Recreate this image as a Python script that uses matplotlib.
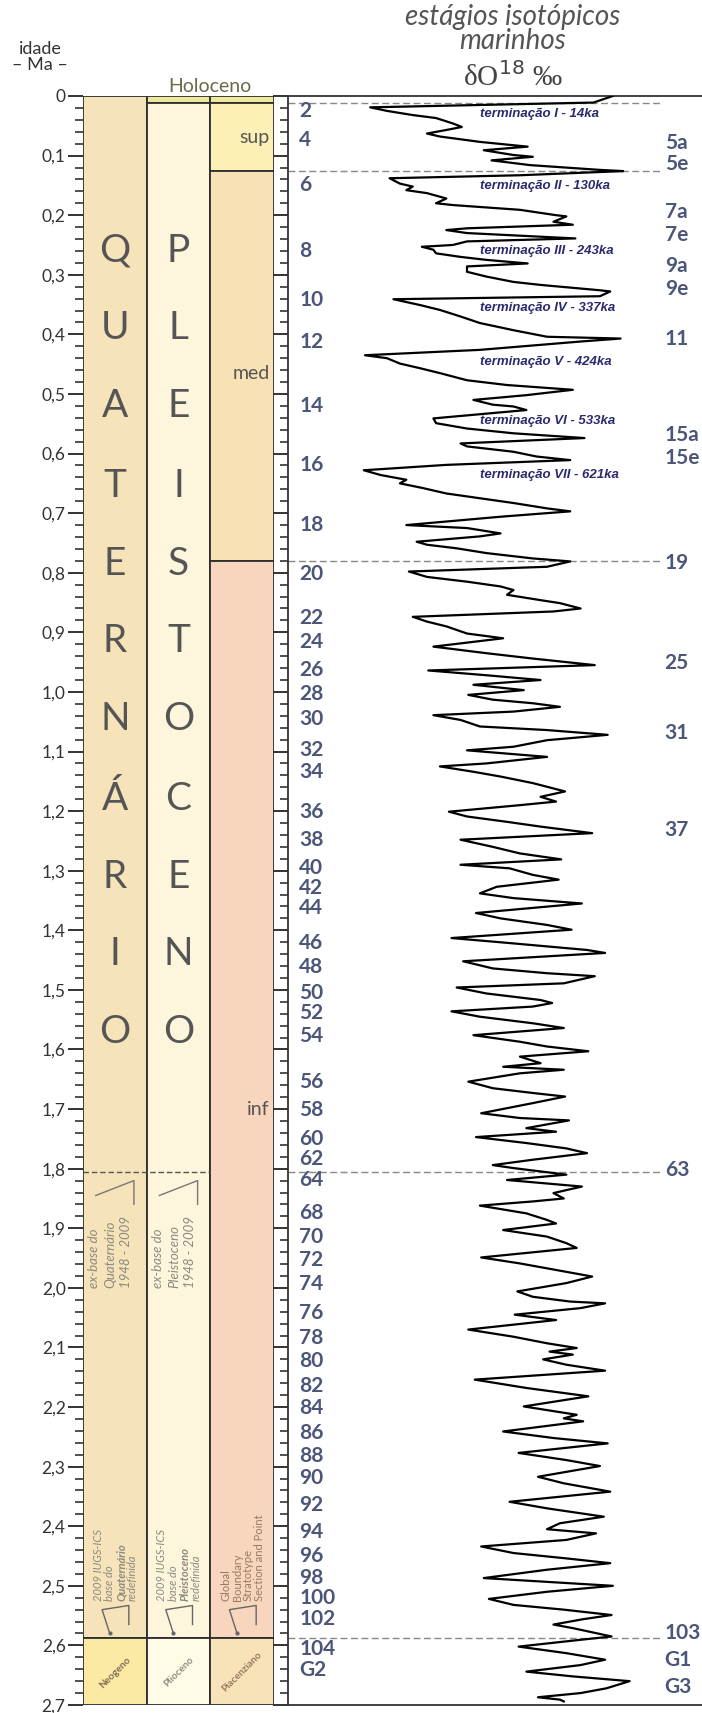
import numpy as np
import matplotlib.pyplot as plt
from matplotlib.ticker import MultipleLocator

plt.rcParams['font.family'] = ['Lato', 'DejaVu Sans']

# --- data -------------------------------------------------------------
tick_ages = [round(0.1 * i, 1) for i in range(28)]
tick_labels = ['0'] + [f'{t:.1f}'.replace('.', ',') for t in tick_ages[1:]]

# geological units: column, top (Ma), base (Ma), colour
unit_col = [0, 0, 1, 1, 1, 2, 2, 2, 2, 2]
unit_top = [0.0, 2.588, 0.0, 0.0117, 2.588, 0.0, 0.0117, 0.126, 0.781, 2.588]
unit_base = [2.588, 2.7, 0.0117, 2.588, 2.7, 0.0117, 0.126, 0.781, 2.588, 2.7]
unit_colour = ['#f7e3ba', '#fbeaa3', '#eee89a', '#fdf6dc', '#fefbe6',
               '#eee89a', '#fdf0b6', '#f8e1b5', '#f8d5bd', '#f8e2b8']

quat_letters = list('QUATERNÁRIO')
pleist_letters = list('PLEISTOCENO')
letter_ages = [0.26, 0.39, 0.52, 0.655, 0.785, 0.915, 1.045, 1.18, 1.31, 1.44, 1.57]

sub_labels = ['sup', 'med', 'inf']
sub_ages = [0.07, 0.465, 1.70]

base_labels = ['Neogeno', 'Plioceno', 'Piacenziano']
base_colours = ['#7c6c55', '#8c8c80', '#9a7460']

# marine isotope stages
even_labels = ['2', '4', '6', '8', '10', '12', '14', '16', '18', '20', '22', '24', '26',
               '28', '30', '32', '34', '36', '38', '40', '42', '44', '46', '48', '50',
               '52', '54', '56', '58', '60', '62', '64', '68', '70', '72', '74', '76',
               '78', '80', '82', '84', '86', '88', '90', '92', '94', '96', '98', '100',
               '102', '104', 'G2']
even_ages = [0.026, 0.073, 0.149, 0.260, 0.342, 0.412, 0.521, 0.619, 0.720, 0.802,
             0.876, 0.917, 0.963, 1.004, 1.045, 1.098, 1.134, 1.202, 1.248, 1.296,
             1.329, 1.363, 1.422, 1.461, 1.506, 1.538, 1.577, 1.655, 1.702, 1.750,
             1.784, 1.819, 1.874, 1.915, 1.953, 1.993, 2.042, 2.084, 2.123, 2.164,
             2.202, 2.244, 2.283, 2.319, 2.365, 2.410, 2.450, 2.487, 2.521, 2.556,
             2.606, 2.641]
odd_labels = ['5a', '5e', '7a', '7e', '9a', '9e', '11', '15a', '15e', '19', '25', '31',
              '37', '63', '103', 'G1', 'G3']
odd_ages = [0.079, 0.114, 0.194, 0.234, 0.285, 0.324, 0.407, 0.569, 0.608, 0.784,
            0.952, 1.069, 1.232, 1.803, 2.579, 2.625, 2.669]

term_labels = ['terminação I - 14ka', 'terminação II - 130ka', 'terminação III - 243ka',
               'terminação IV - 337ka', 'terminação V - 424ka', 'terminação VI - 533ka',
               'terminação VII - 621ka']
term_ages = [0.030, 0.151, 0.260, 0.356, 0.447, 0.546, 0.636]

boundary_ages = [0.0117, 0.126, 0.781, 1.806, 2.588]

# d18O curve (age Ma, per mil)
curve_a = [(0.000, 3.16), (0.011, 3.31), (0.019, 5.04), (0.025, 4.91), (0.032, 4.71),
           (0.037, 4.53), (0.046, 4.40), (0.052, 4.33), (0.057, 4.45), (0.063, 4.60),
           (0.068, 4.50), (0.077, 4.19), (0.085, 3.82), (0.091, 4.16), (0.099, 3.93),
           (0.102, 3.78), (0.108, 4.10), (0.116, 3.80), (0.124, 3.26), (0.126, 3.08),
           (0.133, 3.88), (0.138, 4.89), (0.147, 4.81), (0.152, 4.71), (0.158, 4.76),
           (0.163, 4.60), (0.172, 4.45), (0.180, 4.53), (0.183, 4.40), (0.191, 3.88),
           (0.200, 3.60), (0.202, 3.52), (0.211, 3.62), (0.216, 3.47), (0.222, 4.29),
           (0.225, 4.45), (0.230, 4.29), (0.239, 3.45), (0.244, 4.29), (0.250, 4.40),
           (0.253, 4.64), (0.258, 4.55), (0.264, 4.53), (0.270, 4.34), (0.275, 4.14),
           (0.281, 3.82), (0.286, 4.29), (0.295, 4.29), (0.303, 4.14), (0.312, 3.93),
           (0.317, 3.72), (0.326, 3.26), (0.328, 3.18), (0.336, 3.26), (0.341, 4.86),
           (0.351, 4.65), (0.359, 4.50), (0.370, 4.34), (0.381, 4.19), (0.393, 3.93),
           (0.404, 3.67), (0.407, 3.10), (0.412, 3.41), (0.426, 4.19), (0.435, 5.08),
           (0.440, 4.91), (0.449, 4.81), (0.457, 4.65), (0.465, 4.50), (0.477, 4.29),
           (0.485, 3.98), (0.493, 3.47), (0.502, 3.83), (0.510, 4.24), (0.518, 4.09),
           (0.521, 3.93), (0.527, 3.83), (0.535, 4.24), (0.541, 4.55), (0.549, 4.53),
           (0.558, 4.29), (0.566, 3.93), (0.574, 3.38), (0.583, 4.34), (0.588, 4.29),
           (0.597, 3.93), (0.605, 3.75), (0.611, 3.49), (0.619, 4.45), (0.628, 5.09),
           (0.636, 4.96), (0.644, 4.76), (0.650, 4.81), (0.658, 4.63), (0.667, 4.45),
           (0.683, 3.93), (0.692, 3.67)]
curve_b = [(0.697, 3.49), (0.706, 4.03), (0.720, 4.76), (0.725, 4.29), (0.734, 4.03),
           (0.739, 4.19), (0.748, 4.68), (0.753, 4.60), (0.759, 4.37), (0.767, 4.14),
           (0.776, 3.78), (0.781, 3.49), (0.790, 3.67), (0.798, 4.74), (0.807, 4.60),
           (0.815, 4.29), (0.823, 4.03), (0.829, 3.93), (0.837, 3.98), (0.846, 3.72),
           (0.851, 3.57), (0.860, 3.41), (0.865, 3.62), (0.874, 4.71), (0.882, 4.60),
           (0.890, 4.45), (0.902, 4.29), (0.910, 4.01), (0.924, 4.55), (0.935, 4.14),
           (0.944, 3.78), (0.955, 3.30), (0.964, 4.59), (0.972, 4.14), (0.980, 3.72),
           (0.988, 4.24), (0.997, 3.85), (1.005, 4.28), (1.013, 4.09), (1.019, 3.78),
           (1.025, 3.57), (1.033, 3.93), (1.039, 4.55), (1.047, 4.34), (1.058, 4.19),
           (1.064, 3.67), (1.072, 3.20), (1.081, 3.67), (1.092, 3.93), (1.098, 4.29),
           (1.109, 3.67), (1.120, 4.14), (1.125, 4.50), (1.134, 4.24), (1.142, 4.03),
           (1.153, 3.78), (1.167, 3.53), (1.176, 3.72), (1.184, 3.60), (1.190, 3.88),
           (1.201, 4.43), (1.209, 4.29), (1.218, 3.98), (1.226, 3.72), (1.237, 3.32),
           (1.248, 4.34), (1.260, 4.09), (1.271, 3.88), (1.281, 3.56), (1.290, 4.34),
           (1.296, 3.96), (1.307, 3.78), (1.315, 3.58), (1.327, 4.06), (1.338, 4.19),
           (1.346, 3.93), (1.355, 3.40), (1.371, 4.22)]
curve_c = [(1.380, 4.03), (1.391, 3.67), (1.399, 3.48), (1.413, 4.41), (1.422, 3.93),
           (1.433, 3.36), (1.438, 3.22), (1.452, 4.32), (1.464, 4.09), (1.472, 3.67),
           (1.477, 3.30), (1.489, 3.54), (1.496, 4.37), (1.506, 4.14), (1.517, 3.72),
           (1.522, 3.63), (1.528, 3.78), (1.536, 4.41), (1.545, 4.19), (1.556, 3.78),
           (1.564, 3.54), (1.576, 4.24), (1.587, 3.88), (1.595, 3.67), (1.603, 3.35),
           (1.612, 3.88), (1.623, 3.72), (1.629, 4.01), (1.634, 3.54), (1.640, 3.88),
           (1.654, 4.28), (1.665, 4.09), (1.673, 3.78), (1.679, 3.53), (1.690, 3.78),
           (1.707, 4.18), (1.715, 3.88), (1.719, 3.50), (1.732, 3.83), (1.738, 3.60),
           (1.747, 4.22), (1.757, 3.83), (1.766, 3.52), (1.774, 3.36), (1.785, 3.78),
           (1.794, 4.09), (1.799, 3.93), (1.810, 3.52), (1.819, 3.98), (1.830, 3.40),
           (1.841, 3.62), (1.850, 3.54), (1.855, 3.78), (1.862, 4.19), (1.875, 3.83),
           (1.886, 3.67), (1.892, 3.60), (1.903, 4.01), (1.914, 3.67), (1.925, 3.52),
           (1.933, 3.44), (1.949, 4.18), (1.959, 3.88), (1.970, 3.60), (1.981, 3.32),
           (1.992, 3.52), (2.006, 3.90), (2.015, 3.78), (2.023, 3.49), (2.026, 3.22),
           (2.034, 3.41), (2.045, 3.92)]
curve_d = [(2.054, 3.60), (2.070, 4.28), (2.082, 3.93), (2.093, 3.67), (2.101, 3.44),
           (2.107, 3.65), (2.112, 3.47), (2.120, 3.70), (2.129, 3.52), (2.139, 3.22),
           (2.154, 4.23), (2.168, 3.83), (2.182, 3.35), (2.199, 3.85), (2.213, 3.44),
           (2.219, 3.54), (2.224, 3.39), (2.241, 4.01), (2.252, 3.62), (2.261, 3.20),
           (2.277, 3.89), (2.289, 3.52), (2.299, 3.26), (2.317, 3.74), (2.328, 3.54),
           (2.342, 3.18), (2.359, 3.96), (2.370, 3.67), (2.384, 3.23), (2.395, 3.57),
           (2.405, 3.67), (2.412, 3.29), (2.423, 3.52), (2.434, 4.18), (2.445, 3.93),
           (2.454, 3.52), (2.462, 3.18), (2.473, 3.67), (2.487, 4.16), (2.500, 3.16),
           (2.510, 3.67), (2.522, 4.12), (2.532, 3.93), (2.540, 3.54), (2.549, 3.17),
           (2.556, 3.39), (2.565, 3.62), (2.571, 3.47), (2.585, 3.17), (2.592, 3.47),
           (2.602, 3.89), (2.613, 3.52), (2.624, 3.22), (2.633, 3.41), (2.644, 3.83),
           (2.652, 3.47), (2.660, 3.03), (2.672, 3.21), (2.680, 3.41), (2.687, 3.74),
           (2.691, 3.57), (2.694, 3.54)]

# --- figure -----------------------------------------------------------
W, H = 702, 1713
fig = plt.figure(figsize=(W / 100, H / 100), dpi=100)
bot = 8 / H
hgt = 1609 / H

ax = fig.add_axes([83 / W, bot, 191 / W, hgt])
ax.set_xlim(0, 3)
ax.set_ylim(2.7, 0)
for s in ax.spines.values():
    s.set_visible(False)
ax.set_xticks([])
ax.set_yticks(tick_ages)
ax.set_yticklabels(tick_labels)
ax.yaxis.set_minor_locator(MultipleLocator(0.02))
ax.tick_params(axis='y', which='major', length=10.5, width=1.4, pad=2,
               labelsize=12.5, labelcolor='#333333', color='#333333')
ax.tick_params(axis='y', which='minor', length=5.5, width=1.2, color='#333333')

tops = np.array(unit_top)
bases = np.array(unit_base)
ax.bar(np.array(unit_col) + 0.5, bases - tops, bottom=tops, width=1,
       color=unit_colour, edgecolor='#2e2e2e', linewidth=1.3, zorder=1)

for letter_q, letter_p, age in zip(quat_letters, pleist_letters, letter_ages):
    ax.text(0.5, age, letter_q, ha='center', va='center', fontsize=28, color='#555555')
    ax.text(1.5, age, letter_p, ha='center', va='center', fontsize=28, color='#555555')

for lab, age in zip(sub_labels, sub_ages):
    ax.text(2.93, age, lab, ha='right', va='center', fontsize=14, color='#555555')

ax.text(2.0, -0.001, 'Holoceno', ha='center', va='bottom', fontsize=14,
        color='#6b6a48', clip_on=False)

for i, (lab, col) in enumerate(zip(base_labels, base_colours)):
    ax.text(i + 0.5, 2.645, lab, ha='center', va='center', rotation=45,
            fontsize=7, fontweight='bold', color=col)

# old base of the Quaternary / Pleistocene
ax.hlines(1.806, 0, 2, colors='#555555', linestyles=(0, (4, 2)), linewidth=1, zorder=3)
old_lines = ['ex-base do', 'Quaternário', '1948 - 2009']
old_lines_p = ['ex-base do', 'Pleistoceno', '1948 - 2009']
for c, lines in enumerate([old_lines, old_lines_p]):
    for k, line in enumerate(lines):
        ax.text(c + 0.18 + 0.25 * k, 2.0, line, rotation=90, ha='center', va='bottom',
                fontsize=9.5, style='italic', color='#8a8a80')
    ax.plot([c + 0.2, c + 0.8, c + 0.8], [1.845, 1.82, 1.86],
            color='#777777', linewidth=1)

new_q = ['2009 IUGS-ICS', 'base do', 'Quaternário', 'redefinida']
new_p = ['2009 IUGS-ICS', 'base do', 'Pleistoceno', 'redefinida']
gssp = ['Global', 'Boundary', 'Stratotype', 'Section and Point']
for c, lines in enumerate([new_q, new_p, gssp]):
    for k, line in enumerate(lines):
        bold = (k == 2 and c < 2)
        ax.text(c + 0.24 + 0.18 * k, 2.525, line, rotation=90, ha='center', va='bottom',
                fontsize=8, style='normal' if c == 2 else 'italic',
                fontweight='bold' if bold else 'normal',
                color='#9a7a66' if c == 2 else '#8a8a80')
    ax.plot([c + 0.72, c + 0.72, c + 0.3, c + 0.42],
            [2.565, 2.533, 2.54, 2.58], color='#666666', linewidth=1)
    ax.plot([c + 0.42], [2.58], 'o', color='#666666', markersize=2)

fig.text(40 / W, 1 - 57 / H, 'idade\n– Ma –', ha='center', va='center', fontsize=13,
         color='#333333', linespacing=0.95)

# --- isotope curve panel ----------------------------------------------
ax2 = fig.add_axes([288 / W, bot, 414 / W, hgt])
ax2.set_ylim(2.7, 0)
ax2.set_xlim(5.677, 2.469)
ax2.spines['right'].set_visible(False)
for side in ['left', 'top', 'bottom']:
    ax2.spines[side].set_linewidth(1.3)
    ax2.spines[side].set_color('#333333')
ax2.set_xticks([])
ax2.yaxis.set_major_locator(MultipleLocator(0.1))
ax2.yaxis.set_minor_locator(MultipleLocator(0.02))
ax2.tick_params(axis='y', which='major', length=10.5, width=1.4, labelleft=False,
                color='#333333')
ax2.tick_params(axis='y', which='minor', length=5.5, width=1.2, color='#333333')

curve = curve_a + curve_b + curve_c + curve_d
ages = [p[0] for p in curve]
d18o = [p[1] for p in curve]
ax2.plot(d18o, ages, color='black', linewidth=1.6, zorder=4)

for b in boundary_ages:
    ax2.axhline(b, xmin=0, xmax=0.9, color='#888888', linewidth=1,
                linestyle=(0, (5, 2.5)), zorder=2)

ytr = ax2.get_yaxis_transform()
stage_col = '#4b5678'
for lab, age in zip(even_labels, even_ages):
    ax2.text(0.027, age, lab, transform=ytr, ha='left', va='center', fontsize=15,
             fontweight='bold', color=stage_col)
for lab, age in zip(odd_labels, odd_ages):
    ax2.text(0.91, age, lab, transform=ytr, ha='left', va='center', fontsize=15,
             fontweight='bold', color=stage_col)
for lab, age in zip(term_labels, term_ages):
    ax2.text(0.464, age, lab, transform=ytr, ha='left', va='center', fontsize=9.5,
             fontweight='bold', style='italic', color='#2a2a6e', zorder=5,
             family=['Liberation Sans', 'DejaVu Sans'])

fig.text(513 / W, 1 - 29 / H, 'estágios isotópicos\nmarinhos', ha='center', va='center',
         fontsize=20, style='italic', color='#555555', linespacing=0.95)
fig.text(513 / W, 1 - 77 / H, 'δO$^{18}$ ‰', ha='center', va='center',
         fontsize=21, family=['Liberation Serif', 'DejaVu Serif'], color='#444444')

fig.savefig('out.png', dpi=100)
